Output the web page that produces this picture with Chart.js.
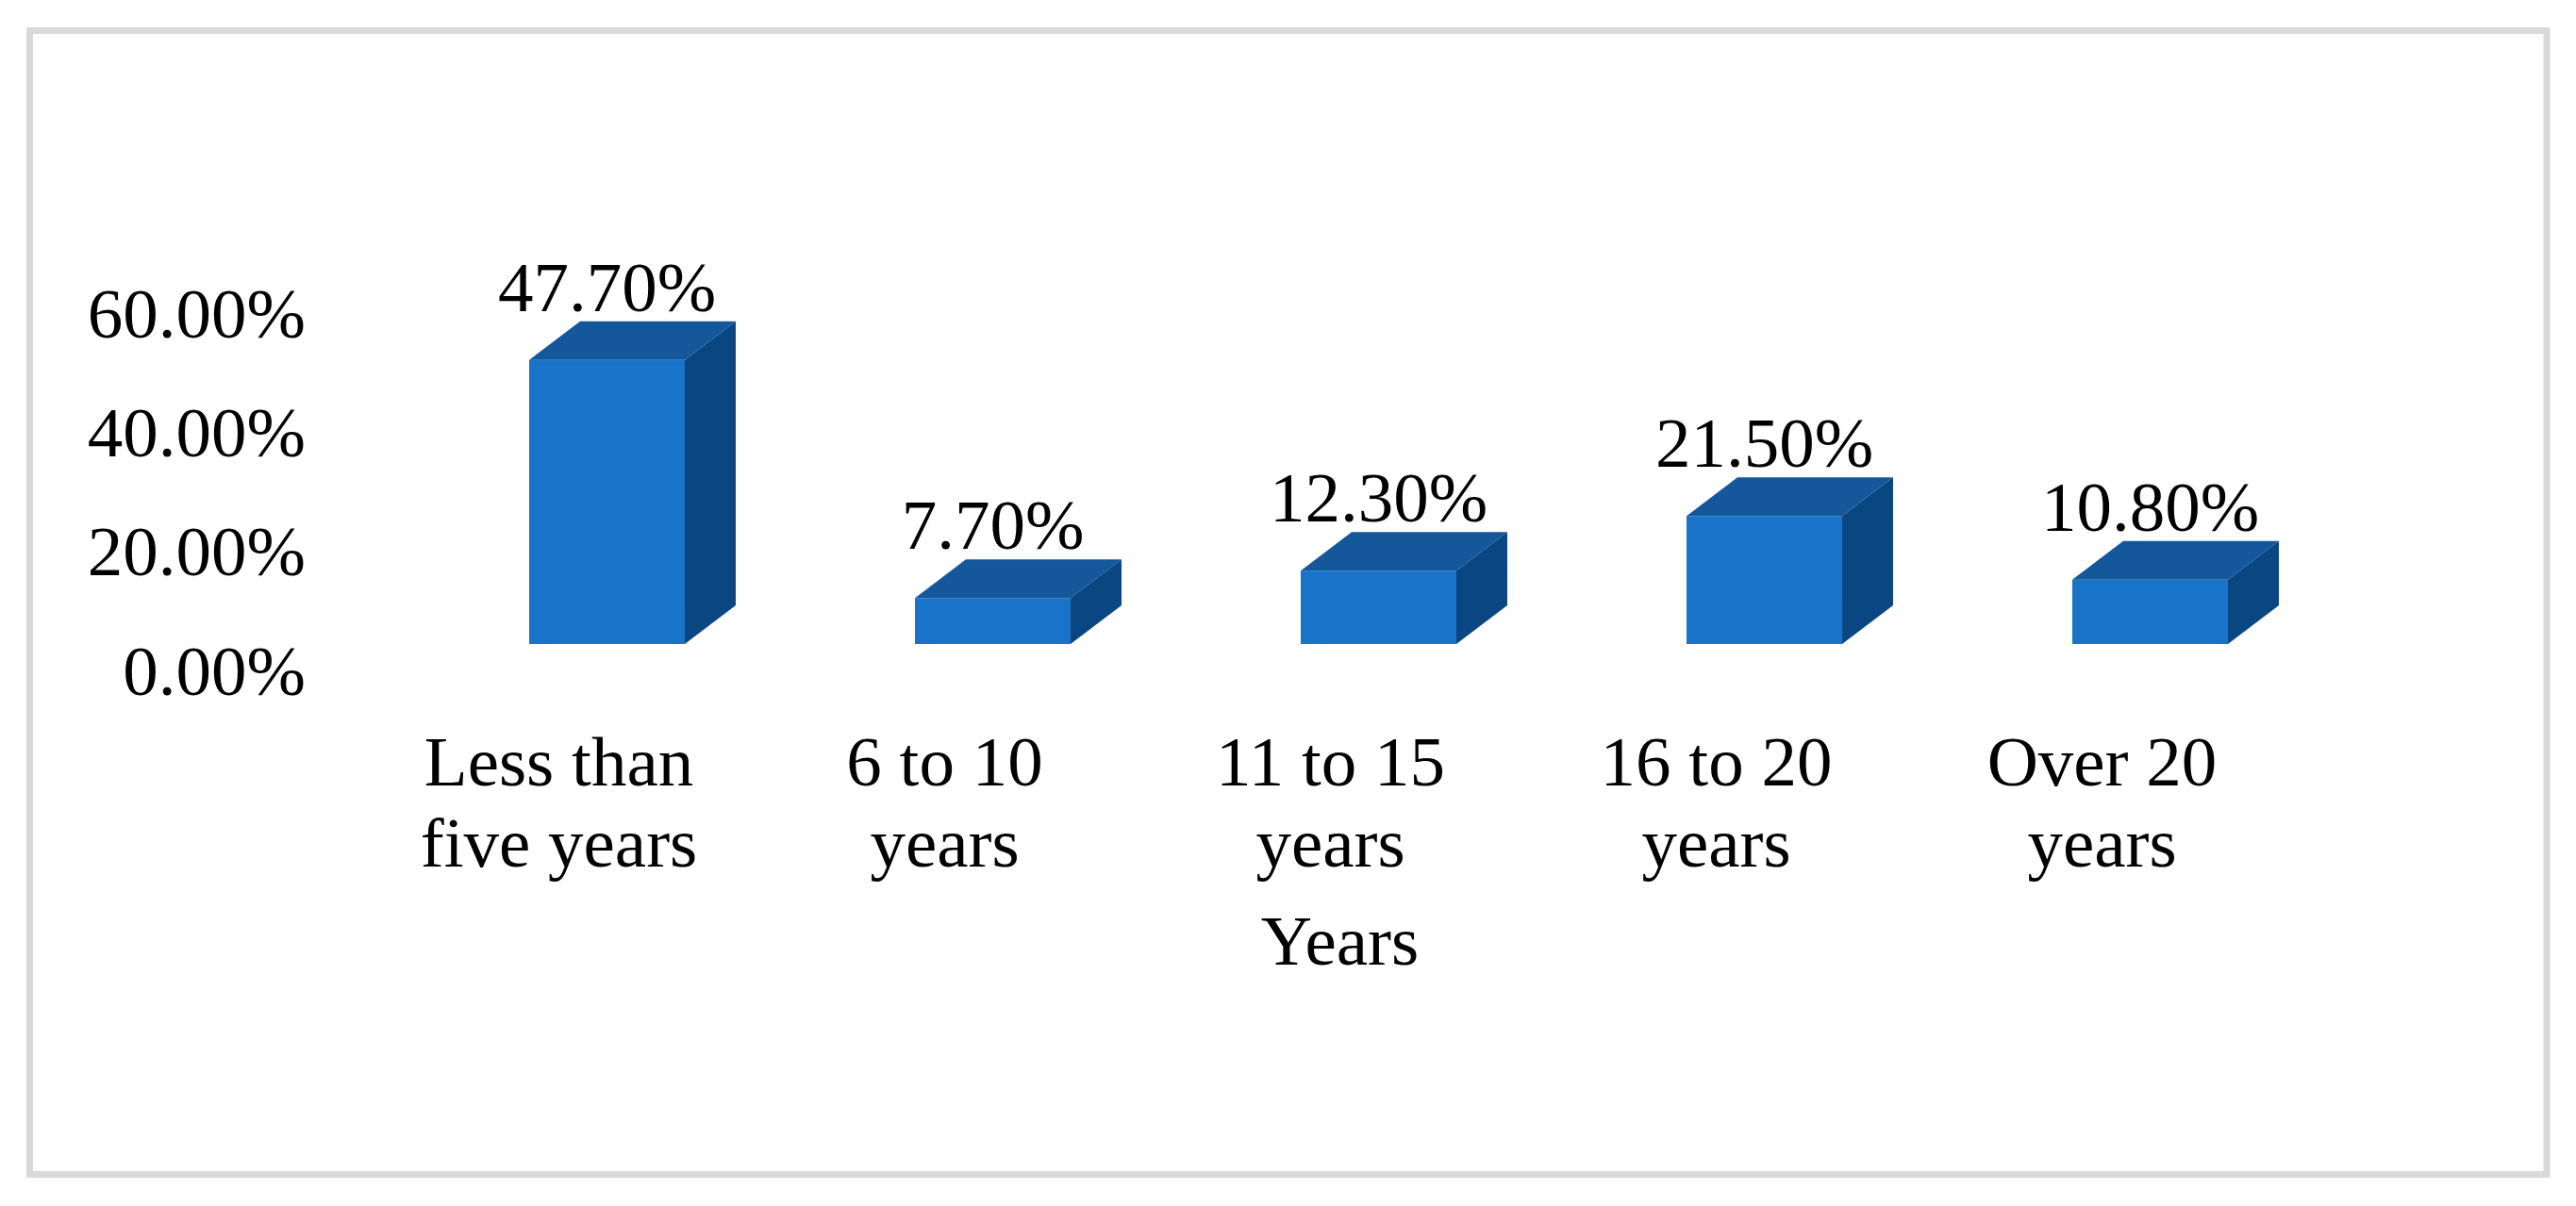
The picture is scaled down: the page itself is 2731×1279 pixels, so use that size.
<!DOCTYPE html>
<html>
<head>
<meta charset="utf-8">
<script src="https://cdn.jsdelivr.net/npm/chart.js@4.4.0/dist/chart.umd.min.js"></script>
<style>
  html, body { margin: 0; padding: 0; background: #ffffff; }
  canvas { display: block; }
</style>
</head>
<body>
<canvas id="myChart" width="2731" height="1279"></canvas>
<script>
// data
const categories = [
    ['Less than', 'five years'],
    ['6 to 10', 'years'],
    ['11 to 15', 'years'],
    ['16 to 20', 'years'],
    ['Over 20', 'years']
];
const shares = [47.7, 7.7, 12.3, 21.5, 10.8];
const yTicks = [0, 20, 40, 60];
const xTitle = 'Years';

const FONT = '"Liberation Serif", "Times New Roman", serif';
const FRONT = '#1873C9';
const TOP = '#15579B';
const SIDE = '#0A4782';
const DX = 54, DY = 41;

// light grey frame round the whole picture
const framePlugin = {
    id: 'frame',
    beforeDraw(chart) {
        const ctx = chart.ctx;
        ctx.save();
        ctx.fillStyle = '#ffffff';
        ctx.fillRect(0, 0, chart.width, chart.height);
        ctx.strokeStyle = '#d9d9d9';
        ctx.lineWidth = 7;
        ctx.strokeRect(31.5, 32.5, 2668.5, 1213);
        ctx.restore();
    }
};

// top and side faces of each box, then the value on top
const boxPlugin = {
    id: 'boxes',
    afterDatasetsDraw(chart) {
        const ctx = chart.ctx;
        const meta = chart.getDatasetMeta(0);
        ctx.save();
        meta.data.forEach((bar, i) => {
            const left = bar.x - bar.width / 2;
            const right = bar.x + bar.width / 2;
            const top = bar.y;
            const bottom = bar.base;

            ctx.fillStyle = TOP;
            ctx.beginPath();
            ctx.moveTo(left, top);
            ctx.lineTo(left + DX, top - DY);
            ctx.lineTo(right + DX, top - DY);
            ctx.lineTo(right, top);
            ctx.closePath();
            ctx.fill();

            ctx.fillStyle = SIDE;
            ctx.beginPath();
            ctx.moveTo(right, top);
            ctx.lineTo(right + DX, top - DY);
            ctx.lineTo(right + DX, bottom - DY);
            ctx.lineTo(right, bottom);
            ctx.closePath();
            ctx.fill();

            ctx.fillStyle = '#000000';
            ctx.font = '75px ' + FONT;
            ctx.textAlign = 'center';
            ctx.textBaseline = 'alphabetic';
            ctx.fillText(shares[i].toFixed(2) + '%', bar.x, top - 52);
        });
        ctx.restore();
    }
};

// axis title sits a little left of the axis centre, as in the original
const titlePlugin = {
    id: 'xTitle',
    afterDraw(chart) {
        const ctx = chart.ctx;
        const x = chart.scales.x;
        ctx.save();
        ctx.fillStyle = '#000000';
        ctx.font = '75px ' + FONT;
        ctx.textAlign = 'center';
        ctx.textBaseline = 'middle';
        ctx.fillText(xTitle, (x.left + x.right) / 2 - 41, 1003);
        ctx.restore();
    }
};

function createChart() {
    const ctx = document.getElementById('myChart').getContext('2d');

    const myChart = new Chart(ctx, {
        type: 'bar',
        data: {
            labels: categories,
            datasets: [{
                label: 'Share',
                data: shares,
                backgroundColor: FRONT,
                borderWidth: 0,
                barPercentage: 0.4034,
                categoryPercentage: 1
            }]
        },
        options: {
            responsive: false,
            animation: false,
            layout: {
                padding: { left: 40, right: 247, top: 304, bottom: 234 }
            },
            plugins: {
                legend: { display: false },
                tooltip: { enabled: false }
            },
            scales: {
                x: {
                    grid: { display: false },
                    border: { display: false },
                    ticks: {
                        color: '#000000',
                        font: { family: FONT, size: 75, lineHeight: 1.15 },
                        padding: 79,
                        labelOffset: -51,
                        maxRotation: 0,
                        autoSkip: false
                    },
                    afterFit(scale) { scale.height = 362; }
                },
                y: {
                    min: yTicks[0],
                    max: yTicks[yTicks.length - 1],
                    grid: { display: false },
                    border: { display: false },
                    afterBuildTicks(scale) {
                        scale.ticks = yTicks.map(v => ({ value: v }));
                    },
                    ticks: {
                        color: '#000000',
                        font: { family: FONT, size: 75 },
                        padding: 107,
                        labelOffset: 34,
                        callback: v => v.toFixed(2) + '%'
                    },
                    afterFit(scale) { scale.width = 399; }
                }
            }
        },
        plugins: [framePlugin, boxPlugin, titlePlugin]
    });
}

document.addEventListener("DOMContentLoaded", createChart);
</script>
</body>
</html>
